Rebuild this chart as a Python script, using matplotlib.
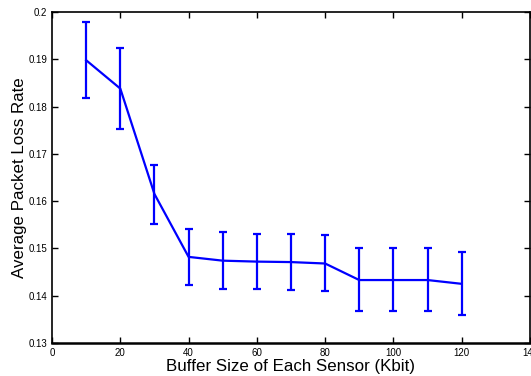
import numpy as np
import matplotlib.pyplot as plt

plt.rcParams['font.family'] = ['Liberation Sans', 'DejaVu Sans']

# buffer sizes (Kbit) and measured loss rates with error bar ends
buffer_kbit = [10, 20, 30, 40, 50, 60, 70, 80, 90, 100, 110, 120]
loss_rate = [0.1898, 0.1838, 0.1615, 0.1482, 0.1474, 0.1472, 0.1471, 0.1468,
             0.1433, 0.1433, 0.1433, 0.1425]
err_top = [0.1979, 0.1924, 0.1677, 0.1542, 0.1535, 0.1531, 0.1530, 0.1528,
           0.1500, 0.1500, 0.1500, 0.1493]
err_bottom = [0.1819, 0.1752, 0.1551, 0.1422, 0.1415, 0.1413, 0.1411, 0.1409,
              0.1367, 0.1367, 0.1367, 0.1358]

x_ticks = [0, 20, 40, 60, 80, 100, 120, 140]
y_ticks = [0.13, 0.14, 0.15, 0.16, 0.17, 0.18, 0.19, 0.2]

loss = np.array(loss_rate)
yerr = [loss - np.array(err_bottom), np.array(err_top) - loss]

fig = plt.figure(figsize=(5.31, 3.76), dpi=100)
ax = fig.add_axes([0.098, 0.088, 0.9, 0.88])

ax.errorbar(buffer_kbit, loss, yerr=yerr, color='#0000ff', lw=1.6,
            elinewidth=1.6, capsize=2.6, capthick=1.6)

ax.set_xlim(0, 140)
ax.set_ylim(0.13, 0.2)
ax.set_xticks(x_ticks)
ax.set_xticklabels([str(t) for t in x_ticks])
ax.set_yticks(y_ticks)
ax.set_yticklabels(['0.13', '0.14', '0.15', '0.16', '0.17', '0.18', '0.19', '0.2'])
ax.tick_params(direction='in', top=True, right=True, labelsize=7, length=4, width=1)
for s in ax.spines.values():
    s.set_linewidth(1.2)
ax.spines['bottom'].set_linewidth(1.8)

ax.set_xlabel('Buffer Size of Each Sensor (Kbit)', fontsize=12.2, labelpad=1)
ax.set_ylabel('Average Packet Loss Rate', fontsize=12.2, labelpad=1)

fig.savefig('out.png', dpi=100)
